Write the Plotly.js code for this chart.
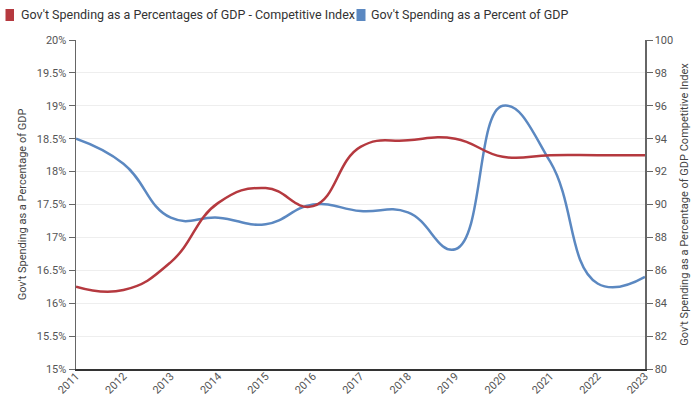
<!DOCTYPE html>
<html><head><meta charset="utf-8">
<script src="https://cdn.plot.ly/plotly-3.0.1.min.js"></script>
<style>html,body{margin:0;padding:0;background:#fff}#chart{width:694px;height:399px}</style>
</head><body><div id="chart"></div>
<script>
const years = [2011,2012,2013,2014,2015,2016,2017,2018,2019,2020,2021,2022,2023];
const competitiveIndex = [85.0,84.8,86.5,90.1,91.0,89.9,93.5,93.9,94.0,92.9,93.0,93.0,93.0];
const spendingPct = [18.5,18.12,17.3,17.3,17.2,17.5,17.4,17.38,16.82,19.0,18.15,16.3,16.4];
const pctTicks = [15,15.5,16,16.5,17,17.5,18,18.5,19,19.5,20];
const pctTickText = ['15%','15.5%','16%','16.5%','17%','17.5%','18%','18.5%','19%','19.5%','20%'];
const nameIndex = "Gov't Spending as a Percentages of GDP - Competitive Index";
const namePct = "Gov't Spending as a Percent of GDP";
const red = '#b5393f', blue = '#5b88c1';

const traces = [
  {x: years, y: competitiveIndex, yaxis: 'y2', type: 'scatter', mode: 'lines', name: nameIndex,
   line: {color: red, width: 2.5, shape: 'spline', smoothing: 1.3}, showlegend: false, hoverinfo: 'skip'},
  {x: years, y: spendingPct, yaxis: 'y', type: 'scatter', mode: 'lines', name: namePct,
   line: {color: blue, width: 2.5, shape: 'spline', smoothing: 1.3}, showlegend: false, hoverinfo: 'skip'}
];

// plot-area pixel helpers for the custom legend
const L = 76, R = 645, T = 40, B = 369;
const px = v => (v - L) / (R - L);
const py = v => (B - v) / (B - T);

const legendFont = {family: 'Roboto, sans-serif', size: 12.5, color: '#333'};
const tickFont = {family: 'Roboto, sans-serif', size: 11, color: '#555'};
const titleFont = {family: 'Roboto, sans-serif', size: 11, color: '#444'};

const layout = {
  width: 694, height: 399,
  margin: {l: L, r: 694 - R, t: T, b: 399 - B},
  paper_bgcolor: '#fff', plot_bgcolor: '#fff',
  font: {family: 'Roboto, sans-serif', color: '#333'},
  showlegend: false,
  shapes: [
    {type: 'rect', xref: 'paper', yref: 'paper', x0: px(5.5), x1: px(14), y0: py(9), y1: py(21),
     fillcolor: red, line: {width: 0}, layer: 'above'},
    {type: 'rect', xref: 'paper', yref: 'paper', x0: px(356.5), x1: px(365.5), y0: py(9), y1: py(21),
     fillcolor: blue, line: {width: 0}, layer: 'above'}
  ],
  annotations: [
    {text: nameIndex, xref: 'paper', yref: 'paper', x: px(19), y: py(15), xanchor: 'left', yanchor: 'middle',
     showarrow: false, font: legendFont},
    {text: namePct, xref: 'paper', yref: 'paper', x: px(368.5), y: py(15), xanchor: 'left', yanchor: 'middle',
     showarrow: false, font: legendFont}
  ],
  xaxis: {range: [2011, 2023], tickmode: 'array', tickvals: years, ticktext: years.map(String),
          tickangle: -45, tickfont: tickFont, showgrid: false, zeroline: false, ticklabelstandoff: -5,
          showline: true, linecolor: '#333', linewidth: 1.5, ticks: '', fixedrange: true},
  yaxis: {range: [15, 20], tickmode: 'array', tickvals: pctTicks, ticktext: pctTickText,
          tickfont: tickFont, showgrid: true, gridcolor: '#eeeeee', zeroline: false,
          showline: true, linecolor: '#666', linewidth: 1.5, ticks: 'outside', ticklen: 6, tickcolor: '#666',
          title: {text: "Gov't Spending as a Percentage of GDP", font: titleFont, standoff: 8}},
  yaxis2: {range: [80, 100], dtick: 2, overlaying: 'y', side: 'right', tickfont: tickFont,
           showgrid: false, zeroline: false, showline: true, linecolor: '#666', linewidth: 1.5,
           ticks: 'outside', ticklen: 6, tickcolor: '#666',
           title: {text: "Gov't Spending as a Percentage of GDP Competitive Index", font: titleFont, standoff: 8}}
};
Plotly.newPlot('chart', traces, layout, {displayModeBar: false, staticPlot: true});
</script></body></html>
